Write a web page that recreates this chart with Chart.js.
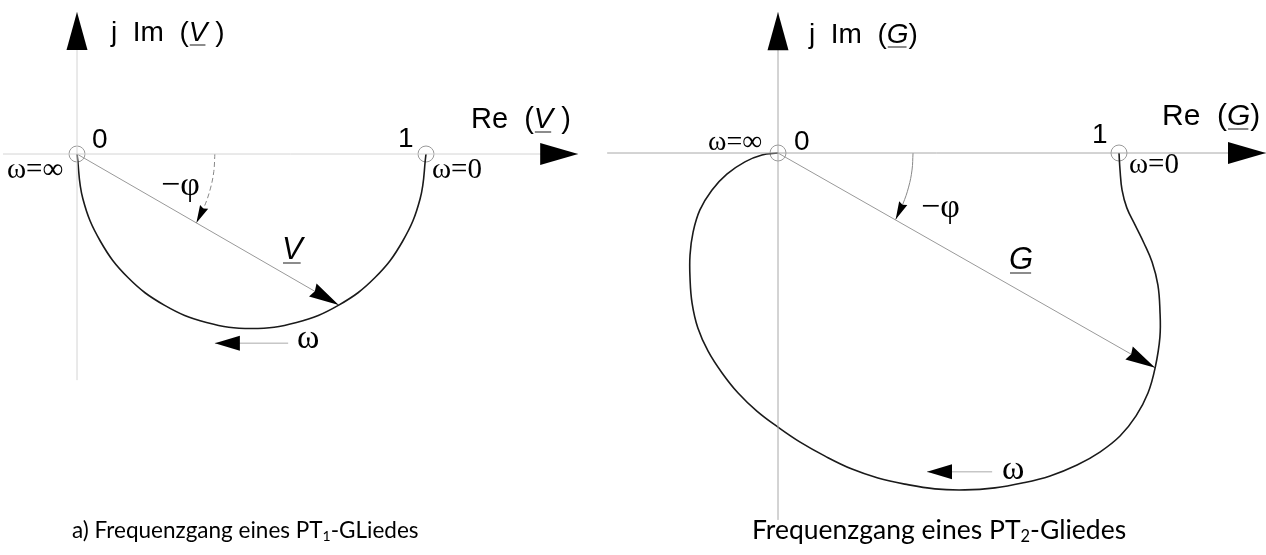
<!DOCTYPE html>
<html>
<head>
<meta charset="utf-8">
<script src="https://cdn.jsdelivr.net/npm/chart.js@4/dist/chart.umd.min.js"></script>
<style>
  html, body { margin: 0; padding: 0; background: #fff; }
  #wrap { position: relative; width: 1266px; height: 555px; overflow: hidden; }
  canvas { position: absolute; top: 0; }
  #c1 { left: 0; }
  #c2 { left: 600px; }
  .caption { position: absolute; font-family: Lato, "Open Sans", sans-serif; color: #000; white-space: nowrap; line-height: 1; }
  .caption sub { font-size: 0.62em; vertical-align: -0.2em; line-height: 0; }
  #cap1 { left: 72px; top: 519px; font-size: 22.5px; }
  #cap2 { left: 752px; top: 516px; font-size: 26.5px; }
</style>
</head>
<body>
<div id="wrap">
  <canvas id="c1" width="600" height="555"></canvas>
  <canvas id="c2" width="666" height="555"></canvas>
  <div class="caption" id="cap1">a) Frequenzgang eines PT<sub>1</sub>-GLiedes</div>
  <div class="caption" id="cap2">Frequenzgang eines PT<sub>2</sub>-Gliedes</div>
</div>
<script>
// Ortskurve PT1 (Halbkreis), von w=0 bei 1 bis w=oo bei 0
var pt1Re = [1, 0.983, 0.933, 0.854, 0.75, 0.629, 0.5, 0.371, 0.25, 0.146, 0.067, 0.017, 0];
var pt1Im = [0, -0.129, -0.25, -0.354, -0.433, -0.483, -0.5, -0.483, -0.433, -0.354, -0.25, -0.129, 0];

// Ortskurve PT2, von w=0 bei 1 einmal herum bis w=oo bei 0
var pt2Re = [1.000, 1.003, 1.009, 1.023, 1.047, 1.073, 1.097, 1.114, 1.120, 1.120, 1.106, 1.085, 1.050,
             1.003, 0.944, 0.877, 0.798, 0.716, 0.636, 0.548, 0.460, 0.372, 0.293, 0.217, 0.138, 0.065, 0.000,
             -0.062, -0.117, -0.164, -0.205, -0.235, -0.252, -0.258, -0.258, -0.249, -0.229, -0.194, -0.150,
             -0.097, -0.047, 0];
var pt2Im = [0, -0.050, -0.109, -0.161, -0.211, -0.264, -0.320, -0.387, -0.460, -0.540, -0.630, -0.704, -0.771,
             -0.830, -0.877, -0.915, -0.947, -0.968, -0.982, -0.988, -0.985, -0.971, -0.953, -0.927, -0.889, -0.848, -0.804,
             -0.757, -0.704, -0.645, -0.581, -0.513, -0.440, -0.367, -0.299, -0.232, -0.167, -0.109, -0.062,
             -0.026, -0.006, 0];

// Zeiger V und G (Spitze auf der Ortskurve)
var vTip = [0.75, -0.433];
var gTip = [1.106, -0.630];

// Winkelboegen -phi
var phi1Re = [0.395, 0.392, 0.382, 0.365, 0.342];
var phi1Im = [0, -0.05, -0.10, -0.15, -0.198];
var phi2Re = [0.396, 0.393, 0.383, 0.366, 0.345];
var phi2Im = [0, -0.05, -0.10, -0.15, -0.195];

// Richtungspfeile fuer wachsendes omega
var omega1Re = [0.605, 0.395];
var omega1Im = [-0.542, -0.542];
var omega2Re = [0.628, 0.437];
var omega2Im = [-0.935, -0.935];

// Achsen (Re von links nach rechts, Im von unten nach oben)
var axis1Re = [-0.212, 1.436];
var axis1Im = [-0.648, 0.407];
var axis2Re = [-0.501, 1.431];
var axis2Im = [-1.076, 0.413];

// Kreise bei 0 und 1
var markRe = [0, 1];
var markIm = [0, 0];

function pts(re, im) {
  return re.map(function (x, i) { return { x: x, y: im[i] }; });
}

var overlay = {
  id: 'overlay',
  afterDatasetsDraw: function (chart, args, opts) {
    var ctx = chart.ctx;
    var xs = chart.scales.x, ys = chart.scales.y;

    // Pfeilspitzen am letzten Punkt der Datensaetze
    chart.data.datasets.forEach(function (ds) {
      if (!ds.arrow) return;
      var n = ds.data.length;
      var a = ds.data[n - 2], b = ds.data[n - 1];
      var x1 = xs.getPixelForValue(a.x), y1 = ys.getPixelForValue(a.y);
      var x2 = xs.getPixelForValue(b.x), y2 = ys.getPixelForValue(b.y);
      var ang = Math.atan2(y2 - y1, x2 - x1);
      var len = ds.arrow.len, hw = ds.arrow.hw;
      ctx.save();
      ctx.translate(x2, y2);
      ctx.rotate(ang);
      ctx.beginPath();
      ctx.moveTo(0, 0);
      ctx.lineTo(-len, -hw);
      ctx.lineTo(-len * (ds.arrow.notch || 1), 0);
      ctx.lineTo(-len, hw);
      ctx.closePath();
      ctx.fillStyle = '#000';
      ctx.fill();
      ctx.restore();
    });

    (opts.labels || []).forEach(function (lb) {
      var x = lb.x;
      ctx.save();
      ctx.fillStyle = '#000';
      ctx.textBaseline = 'alphabetic';
      lb.runs.forEach(function (r) {
        ctx.font = (r.italic ? 'italic ' : '') + lb.font;
        ctx.fillText(r.t, x, lb.y);
        var w = ctx.measureText(r.t).width;
        if (r.underline) {
          ctx.strokeStyle = '#666';
          ctx.lineWidth = 1.5;
          ctx.beginPath();
          ctx.moveTo(x + 1, lb.y + 4);
          ctx.lineTo(x + w - 2, lb.y + 4);
          ctx.stroke();
        }
        x += w;
      });
      ctx.restore();
    });
  }
};

function makeChart(id, layout, curveRe, curveIm, tip, phiRe, phiIm, omRe, omIm, axRe, axIm, axisColor, phiDash, labels) {
  var el = document.getElementById(id);
  var W = el.width, H = el.height;
  var u = layout.unit;
  return new Chart(el, {
    type: 'scatter',
    data: {
      datasets: [
        { data: pts(axRe, [0, 0]), showLine: true, borderColor: axisColor, borderWidth: 1, pointRadius: 0,
          arrow: { len: 38, hw: 11 } },
        { data: pts([0, 0], axIm), showLine: true, borderColor: axisColor, borderWidth: 1, pointRadius: 0,
          arrow: { len: 38, hw: 10.5 } },
        { data: pts(curveRe, curveIm), showLine: true, borderColor: '#1a1a1a', borderWidth: 1.6, pointRadius: 0,
          tension: 0.4 },
        { data: pts([0, tip[0]], [0, tip[1]]), showLine: true, borderColor: '#999', borderWidth: 1, pointRadius: 0,
          arrow: { len: 30, hw: 7.5, notch: 0.92 } },
        { data: pts(phiRe, phiIm), showLine: true, borderColor: '#888', borderWidth: 1, pointRadius: 0,
          tension: 0.4, borderDash: phiDash, arrow: { len: 18, hw: 4.5, notch: 0.9 } },
        { data: pts(omRe, omIm), showLine: true, borderColor: '#aaa', borderWidth: 1, pointRadius: 0,
          arrow: { len: 25, hw: 7.5 } },
        { data: pts(markRe, markIm), showLine: false, pointRadius: 8, pointBorderWidth: 1,
          pointBorderColor: '#999', pointBackgroundColor: 'rgba(0,0,0,0)' }
      ]
    },
    options: {
      responsive: false,
      animation: false,
      devicePixelRatio: 1,
      layout: { padding: 0, autoPadding: false },
      events: [],
      scales: {
        x: { type: 'linear', display: false, min: -layout.ox / u, max: (W - layout.ox) / u },
        y: { type: 'linear', display: false, min: -(H - layout.oy) / u, max: layout.oy / u }
      },
      plugins: {
        legend: { display: false },
        tooltip: { enabled: false },
        overlay: { labels: labels }
      }
    },
    plugins: [overlay]
  });
}

var sans = '"Liberation Sans", Arial, sans-serif';
var serif = '"Liberation Serif", "Times New Roman", serif';

makeChart('c1', { ox: 77, oy: 154, unit: 349 }, pt1Re, pt1Im, vTip, phi1Re, phi1Im, omega1Re, omega1Im,
  axis1Re, axis1Im, '#d4d4d4', [5, 3], [
    { x: 111, y: 41, font: '28px ' + sans, runs: [{ t: 'j  Im  (' }, { t: 'V', italic: true, underline: true }, { t: ' )' }] },
    { x: 471, y: 128, font: '29px ' + sans, runs: [{ t: 'Re  (' }, { t: 'V', italic: true, underline: true }, { t: ' )' }] },
    { x: 92, y: 148, font: '28px ' + sans, runs: [{ t: '0' }] },
    { x: 398, y: 147, font: '28px ' + sans, runs: [{ t: '1' }] },
    { x: 7, y: 178, font: '29px ' + serif, runs: [{ t: 'ω=∞' }] },
    { x: 432, y: 178, font: '29px ' + serif, runs: [{ t: 'ω=0' }] },
    { x: 161, y: 195, font: '34px ' + serif, runs: [{ t: '−φ' }] },
    { x: 282, y: 259, font: '31px ' + sans, runs: [{ t: 'V', italic: true, underline: true }] },
    { x: 297, y: 348, font: '34px ' + serif, runs: [{ t: 'ω' }] }
  ]);

makeChart('c2', { ox: 178, oy: 153, unit: 341 }, pt2Re, pt2Im, gTip, phi2Re, phi2Im, omega2Re, omega2Im,
  axis2Re, axis2Im, '#a8a8a8', [], [
    { x: 209, y: 43, font: '28px ' + sans, runs: [{ t: 'j  Im  (' }, { t: 'G', italic: true, underline: true }, { t: ')' }] },
    { x: 562, y: 125, font: '30px ' + sans, runs: [{ t: 'Re  (' }, { t: 'G', italic: true, underline: true }, { t: ')' }] },
    { x: 194, y: 150, font: '28px ' + sans, runs: [{ t: '0' }] },
    { x: 492, y: 143, font: '28px ' + sans, runs: [{ t: '1' }] },
    { x: 108, y: 150, font: '28px ' + serif, runs: [{ t: 'ω=∞' }] },
    { x: 529, y: 173, font: '29px ' + serif, runs: [{ t: 'ω=0' }] },
    { x: 321, y: 217, font: '34px ' + serif, runs: [{ t: '−φ' }] },
    { x: 409, y: 269, font: '31px ' + sans, runs: [{ t: 'G', italic: true, underline: true }] },
    { x: 402, y: 479, font: '34px ' + serif, runs: [{ t: 'ω' }] }
  ]);
</script>
</body>
</html>
